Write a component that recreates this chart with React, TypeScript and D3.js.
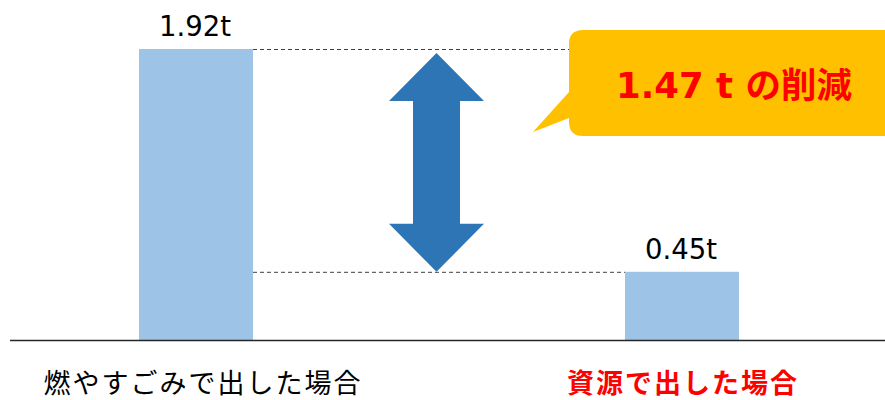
import React from "react";
import * as d3 from "d3";

const categories: string[] = ["燃やすごみで出した場合", "資源で出した場合"];
const values: number[] = [1.92, 0.45];
const valueLabels: string[] = ["1.92t", "0.45t"];
const categoryHighlight: boolean[] = [false, true];
const reductionLabel = "1.47 t の削減";

const W = 885;
const H = 400;

export default function App() {
  const x = d3.scaleBand<string>().domain(categories).range([139, 739]).paddingInner(0.7654).paddingOuter(0);
  const bw = x.bandwidth();
  const cx = (c: string) => (x(c) as number) + bw / 2;
  const y = d3.scaleLinear().domain([0, values[0]]).range([340, 49]);

  const left = cx(categories[0]) + bw / 2;
  const right = cx(categories[1]) - bw / 2;
  const ax = 436.5;
  const yTop = y(values[0]) + 4;
  const yBot = y(values[1]);
  const headH = 48;
  const headW = 47.5;
  const shaftW = 23.5;
  const arrow = [
    [ax, yTop],
    [ax + headW, yTop + headH],
    [ax + shaftW, yTop + headH],
    [ax + shaftW, yBot - headH],
    [ax + headW, yBot - headH],
    [ax, yBot],
    [ax - headW, yBot - headH],
    [ax - shaftW, yBot - headH],
    [ax - shaftW, yTop + headH],
    [ax - headW, yTop + headH],
  ];
  const arrowPath = "M" + arrow.map((p) => p.join(",")).join("L") + "Z";

  const bx = 569, by0 = 30, by1 = 136, r = 14;
  const callout = `M${bx + r},${by0} H${W + 10} V${by1} H${bx + r} Q${bx},${by1} ${bx},${by1 - r} V118 L533,132 L${bx},92 V${by0 + r} Q${bx},${by0} ${bx + r},${by0} Z`;

  return (
    <svg width={W} height={H} style={{ position: "absolute", left: 0, top: 0, display: "block" }}>
      <rect width={W} height={H} fill="#ffffff" />
      {categories.map((c, i) => (
        <rect key={c} x={cx(c) - bw / 2} y={y(values[i])} width={bw} height={y(0) - y(values[i])} fill="#9DC3E6" />
      ))}
      <line x1={left} x2={bx} y1={y(values[0]) + 0.5} y2={y(values[0]) + 0.5} stroke="#404040" strokeWidth={1} strokeDasharray="4 3" />
      <line x1={left} x2={right} y1={y(values[1]) + 0.5} y2={y(values[1]) + 0.5} stroke="#404040" strokeWidth={1} strokeDasharray="4 3" />
      <line x1={10} x2={W} y1={y(0) + 0.5} y2={y(0) + 0.5} stroke="#262626" strokeWidth={1.3} />
      {categories.map((c, i) => (
        <text key={"v" + c} x={cx(c) - 1} y={y(values[i]) - 13} textAnchor="middle" fontFamily="'DejaVu Sans', sans-serif" fontSize={27.5} fill="#000">
          {valueLabels[i]}
        </text>
      ))}
      <path d={arrowPath} fill="#2E75B6" />
      <path d={callout} fill="#FFC000" />
      <text x={734} y={98} textAnchor="middle" fontFamily="'DejaVu Sans', 'Noto Sans CJK JP', sans-serif" fontWeight="bold" fontSize={35.5} fill="#FF0000">
        {reductionLabel}
      </text>
      {categories.map((c, i) => (
        <text
          key={"c" + c}
          x={cx(c) + (i === 0 ? 7 : 1)}
          y={393}
          textAnchor="middle"
          fontFamily="'Noto Sans CJK JP', sans-serif"
          fontSize={27}
          letterSpacing={2}
          fontWeight={categoryHighlight[i] ? "bold" : "normal"}
          fill={categoryHighlight[i] ? "#FF0000" : "#000"}
        >
          {c}
        </text>
      ))}
    </svg>
  );
}
